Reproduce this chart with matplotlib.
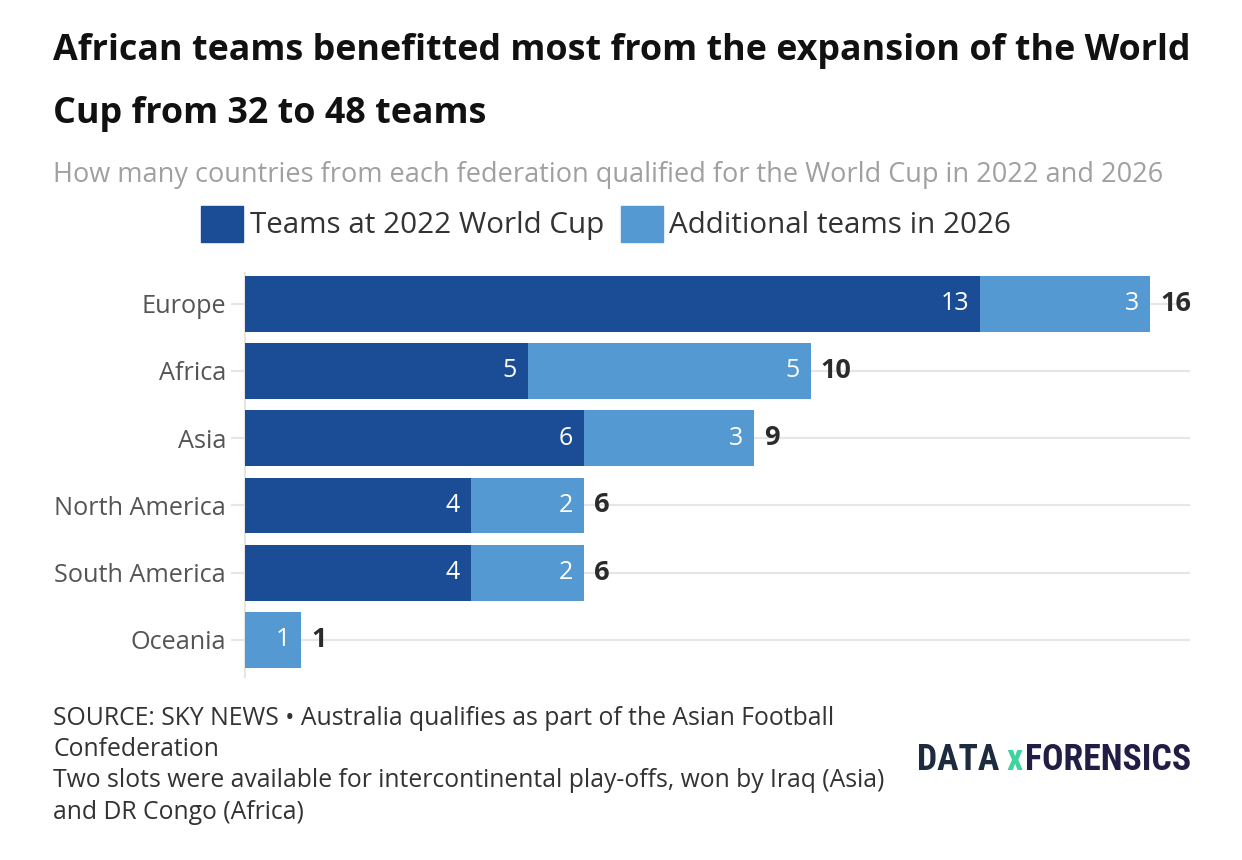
import matplotlib.pyplot as plt
from matplotlib import font_manager
import numpy as np

# Data
regions = ["Europe", "Africa", "Asia", "North America", "South America", "Oceania"]
teams_2022 = [13, 5, 6, 4, 4, 0]
extra_2026 = [3, 5, 3, 2, 2, 1]

dark_blue = "#1b4d97"
light_blue = "#5599d3"

plt.rcParams["font.family"] = ["Open Sans", "DejaVu Sans"]

fig = plt.figure(figsize=(12.42, 8.6), dpi=100)
ax = fig.add_axes([0.197, 0.213, 0.761, 0.469])

y = np.arange(len(regions))
totals = [a + b for a, b in zip(teams_2022, extra_2026)]

ax.barh(y, teams_2022, height=0.83, color=dark_blue, zorder=3)
ax.barh(y, extra_2026, left=teams_2022, height=0.83, color=light_blue, zorder=3)

for i in range(len(regions)):
    if teams_2022[i] > 0:
        ax.annotate(str(teams_2022[i]), (teams_2022[i], y[i]), xytext=(-8, 0),
                    textcoords="offset points", ha="right", va="center",
                    color="white", fontsize=18)
    if extra_2026[i] > 0:
        ax.annotate(str(extra_2026[i]), (totals[i], y[i]), xytext=(-8, 0),
                    textcoords="offset points", ha="right", va="center",
                    color="white", fontsize=18)
    ax.annotate(str(totals[i]), (totals[i], y[i]), xytext=(7, 0),
                textcoords="offset points", ha="left", va="center",
                color="#2b2b2b", fontsize=19.5, fontweight="bold")

ax.set_yticks(y)
ax.set_yticklabels(regions, fontsize=18.2, color="#555555")
ax.set_ylim(5.55, -0.45)
ax.set_xlim(0, 16.7)
ax.set_xticks([])
ax.tick_params(axis="y", length=10, width=1.5, color="#e6e6e6", pad=3.5)
ax.grid(axis="y", color="#e6e6e6", linewidth=1.5, zorder=0)
for s in ["top", "right", "bottom"]:
    ax.spines[s].set_visible(False)
ax.spines["left"].set_color("#e6e6e6")
ax.spines["left"].set_linewidth(1.5)

# Titles
fig.text(0.043, 0.941, "African teams benefitted most from the expansion of the World",
         fontsize=25.8, fontweight="bold", color="#111111", va="center")
fig.text(0.043, 0.867, "Cup from 32 to 48 teams",
         fontsize=25.8, fontweight="bold", color="#111111", va="center")
fig.text(0.043, 0.796, "How many countries from each federation qualified for the World Cup in 2022 and 2026",
         fontsize=19.5, color="#a0a0a0", va="center")

# Legend
fig.patches.append(plt.Rectangle((0.162, 0.719), 0.034, 0.042, transform=fig.transFigure,
                                 color=dark_blue))
fig.text(0.201, 0.738, "Teams at 2022 World Cup", fontsize=21.3, color="#333333", va="center")
fig.patches.append(plt.Rectangle((0.500, 0.719), 0.034, 0.042, transform=fig.transFigure,
                                 color=light_blue))
fig.text(0.539, 0.738, "Additional teams in 2026", fontsize=21.3, color="#333333", va="center")

# Footnotes
notes = ["SOURCE: SKY NEWS \u2022 Australia qualifies as part of the Asian Football",
         "Confederation",
         "Two slots were available for intercontinental play-offs, won by Iraq (Asia)",
         "and DR Congo (Africa)"]
for k, line in enumerate(notes):
    fig.text(0.043, 0.165 - k * 0.0365, line, fontsize=17.8, color="#333333", va="center")

# Logo: pick a narrow font if one is there, then fit the width
logo_family = "DejaVu Sans"
for fam in ["Liberation Sans Narrow", "Roboto Condensed", "DejaVu Sans Condensed", "Roboto"]:
    try:
        font_manager.findfont(font_manager.FontProperties(family=fam, weight="bold"),
                              fallback_to_default=False)
        logo_family = fam
        break
    except ValueError:
        pass

pieces = [("DATA", "#1c2b3e", 0.006), ("x", "#3fd3a0", 0.002), ("FORENSICS", "#221d45", 0.0)]
target_left, target_right = 917 / 1242, 1193 / 1242
ly = 0.116


def draw_logo(size):
    texts = []
    x = target_left
    for word, col, gap in pieces:
        t = fig.text(x, ly, word, fontsize=size, fontweight="bold", color=col,
                     family=logo_family, va="center")
        fig.canvas.draw()
        x = t.get_window_extent().x1 / fig.bbox.width + gap
        texts.append(t)
    return texts, x


texts, right = draw_logo(24)
scale = (target_right - target_left) / (right - target_left)
for t in texts:
    t.remove()
draw_logo(24 * scale)

fig.savefig("out.png", dpi=100, facecolor="white")
